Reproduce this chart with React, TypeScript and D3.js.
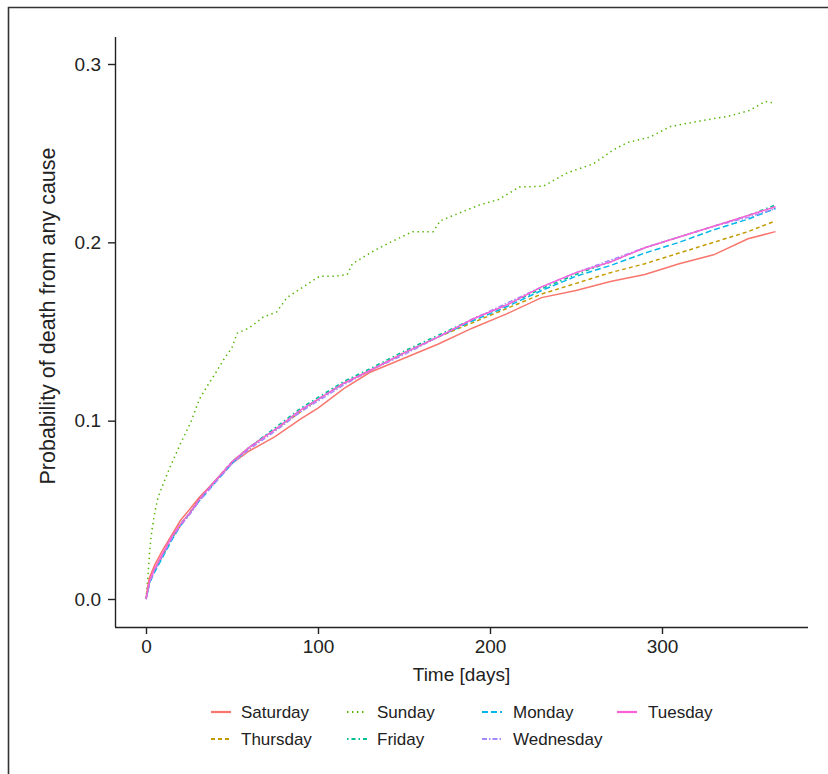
import React, { useRef, useEffect } from "react";
import * as d3 from "d3";

// cumulative incidence (days -> probability)
const groupDays = [0, 1, 2, 5, 10, 15, 20, 26, 31, 40, 50, 60, 75, 90, 100, 115, 130, 150, 170, 190, 210, 230, 250, 270, 290, 310, 330, 350, 366];

const saturday = [0, 0.007, 0.012, 0.019, 0.028, 0.036, 0.044, 0.051, 0.057, 0.066, 0.076, 0.083, 0.091, 0.101, 0.107, 0.118, 0.127, 0.135, 0.143, 0.152, 0.16, 0.169, 0.173, 0.178, 0.182, 0.188, 0.193, 0.202, 0.206];
const thursday = [0, 0.005, 0.01, 0.016, 0.025, 0.034, 0.041, 0.049, 0.056, 0.066, 0.077, 0.085, 0.095, 0.105, 0.112, 0.121, 0.128, 0.138, 0.147, 0.155, 0.163, 0.171, 0.177, 0.183, 0.188, 0.194, 0.2, 0.206, 0.212];
const friday = [0, 0.004, 0.009, 0.016, 0.025, 0.034, 0.042, 0.049, 0.056, 0.066, 0.077, 0.085, 0.096, 0.107, 0.113, 0.122, 0.129, 0.139, 0.148, 0.157, 0.165, 0.174, 0.182, 0.189, 0.197, 0.203, 0.209, 0.215, 0.221];
const monday = [0, 0.004, 0.009, 0.015, 0.024, 0.033, 0.041, 0.049, 0.055, 0.065, 0.076, 0.085, 0.095, 0.106, 0.112, 0.121, 0.128, 0.138, 0.147, 0.156, 0.164, 0.173, 0.181, 0.187, 0.194, 0.2, 0.207, 0.213, 0.219];
const wednesday = [0, 0.004, 0.009, 0.016, 0.025, 0.034, 0.041, 0.048, 0.055, 0.065, 0.076, 0.084, 0.094, 0.105, 0.111, 0.12, 0.128, 0.137, 0.147, 0.157, 0.166, 0.175, 0.183, 0.19, 0.197, 0.203, 0.209, 0.214, 0.219];
const tuesday = [0, 0.005, 0.01, 0.017, 0.026, 0.035, 0.042, 0.049, 0.056, 0.066, 0.077, 0.085, 0.095, 0.106, 0.112, 0.121, 0.128, 0.138, 0.147, 0.157, 0.165, 0.175, 0.183, 0.189, 0.197, 0.203, 0.209, 0.215, 0.22];

const sundayDays = [0, 1, 1.5, 2.3, 3.5, 5, 7, 11, 14, 20, 26, 31, 36, 40, 45, 50, 53, 60, 68, 76, 82, 93, 101, 110, 117, 120, 132, 142, 155, 167, 171, 181, 194, 205, 217, 231, 245, 260, 272, 280, 293, 305, 322, 340, 351, 360, 366];
const sunday = [0, 0.011, 0.018, 0.029, 0.039, 0.048, 0.057, 0.067, 0.074, 0.087, 0.099, 0.112, 0.12, 0.126, 0.134, 0.141, 0.149, 0.152, 0.158, 0.161, 0.169, 0.176, 0.181, 0.181, 0.182, 0.188, 0.195, 0.2, 0.206, 0.206, 0.212, 0.216, 0.221, 0.224, 0.231, 0.2315, 0.239, 0.244, 0.252, 0.256, 0.259, 0.265, 0.268, 0.271, 0.274, 0.279, 0.278];

const dayNames = ["Saturday", "Thursday", "Sunday", "Friday", "Monday", "Wednesday", "Tuesday"];
const dayColors = ["#F8766D", "#C49A00", "#53B400", "#00C094", "#00B6EB", "#A58AFF", "#FB61D7"];
const dayDash = ["none", "4,3", "1.4,3.6", "1.5,3,4,3", "6,3", "5,2,1.5,2", "none"];

const xTicks = [0, 100, 200, 300];
const yTicks = [0, 0.1, 0.2, 0.3];

function App() {
  const svgRef = useRef(null);
  const width = 828;
  const height = 774;

  useEffect(() => {
    const svg = d3.select(svgRef.current);
    svg.selectAll("*").remove();

    const font = "'Liberation Sans', Arial, sans-serif";

    // frame (top and left edges only visible)
    svg.append("path")
      .attr("d", "M8.5,780V7.5H840")
      .attr("fill", "none")
      .attr("stroke", "#333")
      .attr("stroke-width", 1.6);

    const x = d3.scaleLinear().domain([0, 300]).range([146, 662]);
    const y = d3.scaleLinear().domain([0, 0.3]).range([599, 64]);

    const seriesList = [
      { days: groupDays, vals: saturday },
      { days: groupDays, vals: thursday },
      { days: sundayDays, vals: sunday },
      { days: groupDays, vals: friday },
      { days: groupDays, vals: monday },
      { days: groupDays, vals: wednesday },
      { days: groupDays, vals: tuesday },
    ];

    const line = d3.line<number>()
      .x(d => d[0])
      .y(d => d[1]);

    const drawOrder = [2, 0, 1, 3, 4, 5, 6];
    const g = svg.append("g");
    drawOrder.forEach(i => {
      const s = seriesList[i];
      const pts = s.days.map((d, j) => [x(d), y(s.vals[j])]);
      g.append("path")
        .attr("d", line(pts as any))
        .attr("fill", "none")
        .attr("stroke", dayColors[i])
        .attr("stroke-width", 1.5)
        .attr("stroke-dasharray", dayDash[i]);
    });

    // axes
    const xAxis = d3.axisBottom(x).tickValues(xTicks).tickSize(7).tickPadding(6).tickFormat(d3.format("d"));
    const yAxis = d3.axisLeft(y).tickValues(yTicks).tickSize(7).tickPadding(7).tickFormat(d3.format(".1f"));

    const gx = svg.append("g").attr("transform", "translate(0,627)").call(xAxis);
    gx.select(".domain").attr("d", "M115,0.5H808");
    const gy = svg.append("g").attr("transform", "translate(115,0)").call(yAxis);
    gy.select(".domain").attr("d", "M0.5,37V627");

    [gx, gy].forEach(a => {
      a.attr("font-family", font).attr("font-size", 19);
      a.selectAll("path,line").attr("stroke", "#222").attr("stroke-width", 1.4);
      a.selectAll("text").attr("fill", "#222");
    });

    svg.append("text")
      .attr("x", 461.5)
      .attr("y", 681)
      .attr("text-anchor", "middle")
      .attr("font-family", font)
      .attr("font-size", 19)
      .attr("fill", "#222")
      .text("Time [days]");

    svg.append("text")
      .attr("transform", "translate(55,316) rotate(-90)")
      .attr("text-anchor", "middle")
      .attr("font-family", font)
      .attr("font-size", 21.5)
      .attr("fill", "#222")
      .text("Probability of death from any cause");

    // legend, column-major in 2 rows
    const colX = [211, 347, 482, 617];
    const rowY = [712, 739];
    dayNames.forEach((name, i) => {
      const col = Math.floor(i / 2);
      const row = i % 2;
      const lg = svg.append("g").attr("transform", `translate(${colX[col]},${rowY[row]})`);
      lg.append("line")
        .attr("x1", 0).attr("x2", 20).attr("y1", 0).attr("y2", 0)
        .attr("stroke", dayColors[i])
        .attr("stroke-width", 2.2)
        .attr("stroke-dasharray", dayDash[i]);
      lg.append("text")
        .attr("x", col >= 2 ? 31 : 30)
        .attr("y", 6)
        .attr("font-family", font)
        .attr("font-size", 17)
        .attr("fill", "#222")
        .text(name);
    });
  }, []);

  return (
    <svg
      ref={svgRef}
      width={width}
      height={height}
      style={{ position: "absolute", left: 0, top: 0, background: "#fff" }}
    ></svg>
  );
}

export default App;
